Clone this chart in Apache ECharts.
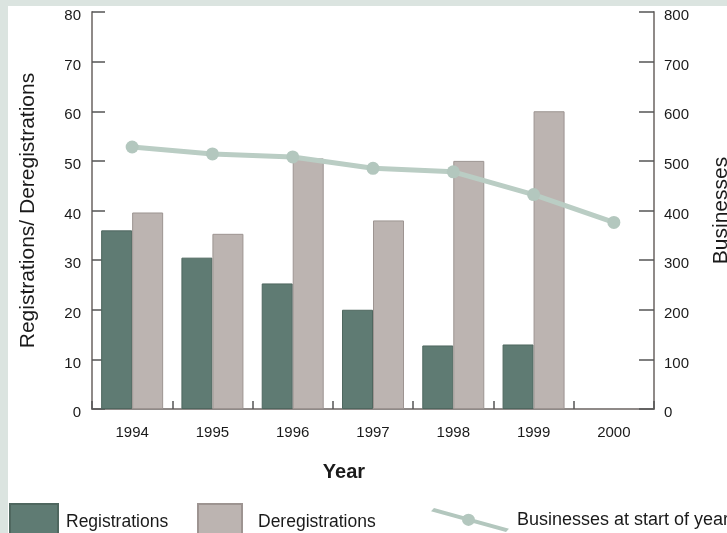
<!DOCTYPE html>
<html>
<head>
<meta charset="utf-8">
<script src="https://cdn.jsdelivr.net/npm/echarts@6/dist/echarts.min.js"></script>
<style>
  html, body { margin: 0; padding: 0; width: 727px; height: 533px; overflow: hidden; background: #dbe4e0; }
  #chart { position: absolute; left: 8px; top: 6px; width: 719px; height: 527px; background: #ffffff; }
</style>
</head>
<body>
<div id="chart"></div>
<script>
// Years on the category axis
const years = ['1994', '1995', '1996', '1997', '1998', '1999', '2000'];
// Registrations and deregistrations per year (left axis)
const registrations = [36, 30.5, 25.3, 20, 12.8, 13, null];
const deregistrations = [39.6, 35.3, 50.5, 38, 50, 60, null];
// Number of businesses at the start of each year (right axis)
const businesses = [528, 514, 508, 485, 478, 432, 376];
// Axis tick values
const leftTicks = [0, 10, 20, 30, 40, 50, 60, 70, 80];
const rightTicks = [0, 100, 200, 300, 400, 500, 600, 700, 800];

const FONT = '"Liberation Sans", Arial, Helvetica, sans-serif';
const AXIS_COLOR = '#8f8a88';
const TEXT_COLOR = '#1a1a1a';
const REG_COLOR = '#5f7b73';
const DEREG_COLOR = '#bcb4b1';
const LINE_COLOR = '#bacdc4';
const MARKER_COLOR = '#b3c7be';

// Legend icon for the line series: a slanted stroke with a marker in the middle
// (both sub-paths wound the same way so the marker stays filled)
const lineIcon = 'path://M0 2 L3 -1.5 L78 20.5 L75 24 Z M31 11 A6.5 6.5 0 1 1 44 11 A6.5 6.5 0 1 1 31 11 Z';

const chart = echarts.init(document.getElementById('chart'), null, { renderer: 'canvas' });

const legendText = { fontFamily: FONT, fontSize: 17.5, color: TEXT_COLOR };

// Value-axis labels sit slightly below their ticks
const valueLabel = (margin) => ({
  margin: margin,
  formatter: '{v|{value}}',
  rich: { v: { fontFamily: FONT, fontSize: 15, color: TEXT_COLOR, padding: [8, 0, 0, 0] } }
});

chart.setOption({
  animation: false,
  textStyle: { fontFamily: FONT },
  grid: { left: 84, right: 73, top: 6, bottom: 124, containLabel: false, outerBoundsMode: 'none' },
  legend: [
    {
      data: [{ name: 'Registrations', icon: 'rect' }], left: 1, top: 497, padding: 0,
      itemWidth: 48, itemHeight: 36,
      textStyle: Object.assign({}, legendText, { padding: [0, 0, 0, 3] }), selectedMode: false
    },
    {
      data: [{ name: 'Deregistrations', icon: 'rect' }], left: 189, top: 497, padding: 0,
      itemWidth: 44, itemHeight: 36,
      textStyle: Object.assign({}, legendText, { padding: [0, 0, 0, 11] }), selectedMode: false
    },
    {
      data: [{
        name: 'Businesses at start of year', icon: lineIcon,
        itemStyle: { color: MARKER_COLOR, borderWidth: 0 },
        lineStyle: { width: 0, opacity: 0 }
      }],
      left: 423, top: 502, padding: 0,
      itemWidth: 78, itemHeight: 24, symbolKeepAspect: false,
      textStyle: Object.assign({}, legendText, { fontSize: 18, padding: [0, 0, 0, 3] }), selectedMode: false
    }
  ],
  xAxis: {
    type: 'category',
    data: years,
    boundaryGap: true,
    name: 'Year',
    nameLocation: 'middle',
    nameGap: 53,
    nameTextStyle: { fontFamily: FONT, fontSize: 20, fontWeight: 'bold', color: TEXT_COLOR, padding: [0, 58, 0, 0] },
    axisLine: { lineStyle: { color: AXIS_COLOR, width: 2 } },
    axisTick: { show: true, inside: true, length: 8, lineStyle: { color: '#555', width: 1.5 } },
    axisLabel: { fontFamily: FONT, fontSize: 15, color: TEXT_COLOR, margin: 16 },
    splitLine: { show: false }
  },
  yAxis: [
    {
      type: 'value',
      min: leftTicks[0], max: leftTicks[leftTicks.length - 1], interval: leftTicks[1] - leftTicks[0],
      position: 'left',
      name: 'Registrations/ Deregistrations',
      nameLocation: 'middle',
      nameRotate: 90,
      nameGap: 53,
      nameTextStyle: { fontFamily: FONT, fontSize: 21, color: TEXT_COLOR },
      axisLine: { show: true, lineStyle: { color: AXIS_COLOR, width: 2 } },
      axisTick: { show: true, inside: true, length: 13, lineStyle: { color: '#555', width: 1.5 } },
      axisLabel: valueLabel(11),
      splitLine: { show: false }
    },
    {
      type: 'value',
      min: rightTicks[0], max: rightTicks[rightTicks.length - 1], interval: rightTicks[1] - rightTicks[0],
      position: 'right',
      name: 'Businesses',
      nameLocation: 'middle',
      nameRotate: 90,
      nameGap: 57,
      nameTextStyle: { fontFamily: FONT, fontSize: 21, color: TEXT_COLOR },
      axisLine: { show: true, lineStyle: { color: AXIS_COLOR, width: 2 } },
      axisTick: { show: true, inside: true, length: 15, lineStyle: { color: '#555', width: 1.5 } },
      axisLabel: valueLabel(10),
      splitLine: { show: false }
    }
  ],
  series: [
    {
      name: 'Registrations',
      type: 'bar',
      yAxisIndex: 0,
      data: registrations,
      barWidth: 31,
      barGap: '0%',
      itemStyle: { color: REG_COLOR, borderColor: '#4f675f', borderWidth: 1 }
    },
    {
      name: 'Deregistrations',
      type: 'bar',
      yAxisIndex: 0,
      data: deregistrations,
      barWidth: 31,
      barGap: '0%',
      itemStyle: { color: DEREG_COLOR, borderColor: '#9d9491', borderWidth: 1 }
    },
    {
      name: 'Businesses at start of year',
      type: 'line',
      yAxisIndex: 1,
      data: businesses,
      symbol: 'circle',
      symbolSize: 13,
      z: 5,
      lineStyle: { color: LINE_COLOR, width: 5 },
      itemStyle: { color: MARKER_COLOR }
    }
  ]
});
</script>
</body>
</html>
